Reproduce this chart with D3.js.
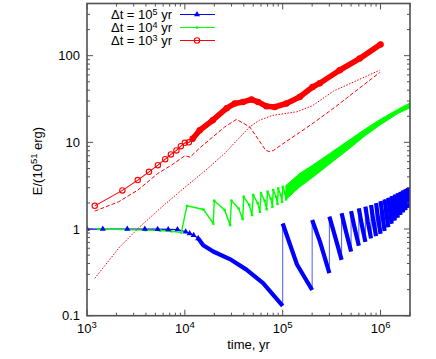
<!DOCTYPE html>
<html>
<head>
<meta charset="utf-8">
<script src="https://cdn.jsdelivr.net/npm/d3@7"></script>
<style>
body { margin: 0; background: #fff; }
text { font-family: "Liberation Sans", Arial, sans-serif; font-size: 13px; fill: #000; }
</style>
</head>
<body>
<script>
const width = 436;
const height = 359;

// dt = 1e5 yr (blue)
const blueEarly = [[1000,1.0],[1450,1.0],[2580,1.0],[3900,1.0],[5270,0.995],[6760,0.99],[8400,0.985],[10200,0.93],[11200,0.89],[12300,0.85],[13700,0.78]];
const blueDecay = [[13700,0.78],[15400,0.65],[19500,0.55],[28800,0.45],[42600,0.34],[63000,0.237],[100000,0.13]];
const blueJumpT = [1e5,2e5,3e5,4e5,5e5,6e5,7e5,8e5,9e5,1e6,1.1e6,1.2e6,1.3e6,1.4e6,1.5e6,1.6e6,1.7e6,1.8e6,1.9e6];
const blueTop = [1.16,1.27,1.39,1.52,1.61,1.73,1.81,1.89,1.99,2.1,2.2,2.3,2.4,2.5,2.6,2.7,2.8,2.9,3.0];
const blueMidT = [1.4e5,2.4e5,3.4e5,4.4e5,5.4e5,6.4e5,7.4e5,8.4e5,9.4e5];
const blueMid = [0.39,0.72,0.85,0.97,1.06,1.15,1.22,1.29,1.36];
const blueBottomT = [2e5,3e5,4e5,5e5,6e5,7e5,8e5,9e5,1e6,1.1e6,1.2e6,1.3e6,1.4e6,1.5e6,1.6e6,1.7e6,1.8e6,1.9e6,2e6];
const blueBottom = [0.198,0.31,0.44,0.55,0.64,0.71,0.78,0.83,0.88,0.95,1.05,1.15,1.25,1.35,1.45,1.55,1.65,1.75,1.85];

// dt = 1e4 yr (green)
const greenEarly = [[1300,1.0],[2500,0.985],[4000,0.97],[5600,0.96],[7300,0.94],[9200,0.91]];
const greenJumpT = [10500,20000,30000,40000,50000,60000,70000,80000,90000,100000];
const greenTop = [1.85,2.12,2.12,2.35,2.46,2.58,2.70,2.82,2.94,3.07];
const greenMidT = [15500,25500,35500,45500,55500,65500,75500,85500,95500,105500];
const greenMid = [1.68,1.66,1.72,1.9,2.0,2.12,2.24,2.35,2.47,2.58];
const greenBottomT = [19500,29000,39000,48500,58500,68500,78500,88500,98500,108500];
const greenBottom = [1.16,1.11,1.30,1.45,1.58,1.69,1.81,1.95,2.06,2.20];
const greenBandT = [108500,150000,200000,300000,500000,700000,1000000,1500000,2000000];
const greenBandHi = [3.2,4.4,5.4,7.4,11.0,14.3,18.5,24.0,28.5];
const greenBandLo = [2.2,3.07,3.9,5.6,8.8,12.0,16.0,21.5,25.0];

// dt = 1e3 yr (red) and the two thin red curves
const redMain = [[1200,1.85],[2300,2.79],[3300,3.67],[4300,4.57],[5300,5.46],[6300,6.4],[7200,7.26],[8200,8.07],[9100,9.04],[10000,9.87],[11000,10.0],[12000,11.0],[14200,13.8],[19300,18.0],[26800,24.8],[32400,28.1],[39400,29.3],[48000,31.2],[56000,29.3],[68200,26.1],[82800,25.6],[109000,28.1],[149000,33.4],[202000,43.6],[239000,48.1],[382000,67.9],[611000,92.6],[1000000,135]];
const redDash = [[1200,1.61],[2100,2.06],[3300,2.81],[5300,4.38],[7300,5.46],[10000,7.0],[11300,6.75],[14000,8.5],[25600,15.1],[33700,18.4],[46000,15.1],[57000,10.6],[67000,8.1],[74000,7.8],[81000,8.1],[100000,9.6],[149000,13.0],[210000,17.0],[335000,25],[540000,38],[980000,64]];
const redDot = [[1200,0.27],[2170,0.625],[3340,1.02],[5560,1.72],[10000,3.03],[16400,4.78],[25600,7.5],[46000,15.1],[58000,18.0],[79000,20.5],[139000,22.5],[202000,26.5],[330000,39],[980000,68]];

const legendExp = ["5", "4", "3"];
const yTickLabels = {0.1: "0.1", 1: "1", 10: "10", 100: "100"};

const x = d3.scaleLog().domain([1e3, 2e6]).range([87, 410]);
const y = d3.scaleLog().domain([0.1, 400]).range([315.7, 3.5]);
const line = d3.line().x(d => x(d[0])).y(d => y(d[1]));

const svg = d3.select('body').append('svg')
    .attr('width', width)
    .attr('height', height);

svg.append('clipPath').attr('id', 'plot-clip')
    .append('rect')
    .attr('x', 87).attr('y', 3.5)
    .attr('width', 323).attr('height', 312.2);

const plot = svg.append('g').attr('clip-path', 'url(#plot-clip)');

// ---- blue ----
const blueTeeth = blueJumpT.map((t, i) => {
    const pts = [[t, blueTop[i]]];
    if (i < blueMid.length) pts.push([blueMidT[i], blueMid[i]]);
    pts.push([blueBottomT[i], blueBottom[i]]);
    return pts;
});
// thin vertical jumps
const blueJumps = [[blueDecay[blueDecay.length - 1], blueTeeth[0][0]]];
for (let i = 1; i < blueTeeth.length; i++) {
    blueJumps.push([blueTeeth[i - 1][blueTeeth[i - 1].length - 1], blueTeeth[i][0]]);
}
plot.selectAll('.bjump').data(blueJumps).enter().append('path')
    .attr('fill', 'none').attr('stroke', '#4a5cff').attr('stroke-width', 1)
    .attr('d', line);
plot.append('path').datum(blueEarly)
    .attr('fill', 'none').attr('stroke', '#0000ff').attr('stroke-width', 1.2)
    .attr('d', line);
plot.selectAll('.bthick').data([blueDecay].concat(blueTeeth)).enter().append('path')
    .attr('fill', 'none').attr('stroke', '#0000ff').attr('stroke-width', 4.2)
    .attr('stroke-linejoin', 'round')
    .attr('d', line);

// ---- green ----
const greenPts = greenEarly.slice();
greenJumpT.forEach((t, i) => {
    greenPts.push([t, greenTop[i]]);
    greenPts.push([greenMidT[i], greenMid[i]]);
    greenPts.push([greenBottomT[i], greenBottom[i]]);
});
const greenBand = greenBandT.map((t, i) => ({t: t, hi: greenBandHi[i], lo: greenBandLo[i]}));
plot.append('path').datum(greenBand)
    .attr('fill', '#00ff00').attr('stroke', '#00ff00').attr('stroke-width', 1)
    .attr('d', d3.area().x(d => x(d.t)).y0(d => y(d.lo)).y1(d => y(d.hi)));
plot.append('path').datum(greenPts.concat([[greenBandT[0], greenBandHi[0]]]))
    .attr('fill', 'none').attr('stroke', '#00ff00').attr('stroke-width', 1.4)
    .attr('d', line);
plot.selectAll('.gpt').data(greenPts).enter().append('rect')
    .attr('x', d => x(d[0]) - 1.2).attr('y', d => y(d[1]) - 1.2)
    .attr('width', 2.4).attr('height', 2.4)
    .attr('fill', '#00ff00');

// blue triangle markers
const tri = d3.symbol().type(d3.symbolTriangle).size(16);
plot.selectAll('.bpt').data(blueEarly).enter().append('path')
    .attr('transform', d => `translate(${x(d[0])},${y(d[1])})`)
    .attr('d', tri)
    .attr('fill', '#0000ff');

// ---- red ----
plot.append('path').datum(redDot)
    .attr('fill', 'none').attr('stroke', '#ff0000').attr('stroke-width', 1)
    .attr('stroke-dasharray', '1.5,1.5')
    .attr('d', line);
plot.append('path').datum(redDash)
    .attr('fill', 'none').attr('stroke', '#ff0000').attr('stroke-width', 1)
    .attr('stroke-dasharray', '4,2')
    .attr('d', line);
plot.append('path').datum(redMain)
    .attr('fill', 'none').attr('stroke', '#ff0000').attr('stroke-width', 1.1)
    .attr('d', line);
plot.append('path').datum(redMain.filter(d => d[0] >= 12000))
    .attr('fill', 'none').attr('stroke', '#ff0000').attr('stroke-width', 5.6)
    .attr('stroke-linejoin', 'round').attr('stroke-linecap', 'round')
    .attr('d', line);
plot.selectAll('.rpt').data(redMain).enter().append('circle')
    .attr('cx', d => x(d[0])).attr('cy', d => y(d[1]))
    .attr('r', 2.7)
    .attr('fill', 'none').attr('stroke', '#ff0000').attr('stroke-width', 1.1);

// ---- frame & ticks ----
const frameColor = '#505050';
const x0 = 87, x1 = 410, y0 = 315.7, y1 = 3.5;
const isMajor = v => Math.abs(Math.log10(v) - Math.round(Math.log10(v))) < 1e-6;

const axes = svg.append('g').attr('stroke', frameColor).attr('stroke-width', 1);
y.ticks().forEach(v => {
    const len = isMajor(v) ? 6 : 3;
    const yy = y(v);
    axes.append('line').attr('x1', x0).attr('x2', x0 + len).attr('y1', yy).attr('y2', yy);
    axes.append('line').attr('x1', x1).attr('x2', x1 - len).attr('y1', yy).attr('y2', yy);
});
x.ticks().forEach(v => {
    const len = isMajor(v) ? 6 : 3;
    const xx = x(v);
    axes.append('line').attr('x1', xx).attr('x2', xx).attr('y1', y0).attr('y2', y0 - len);
    axes.append('line').attr('x1', xx).attr('x2', xx).attr('y1', y1).attr('y2', y1 + len);
});
svg.append('rect')
    .attr('x', x0).attr('y', y1)
    .attr('width', x1 - x0).attr('height', y0 - y1)
    .attr('fill', 'none').attr('stroke', frameColor).attr('stroke-width', 1.6);

// tick labels
y.ticks().filter(isMajor).forEach(v => {
    svg.append('text')
        .attr('x', 80).attr('y', y(v) + 4.5)
        .attr('text-anchor', 'end')
        .text(yTickLabels[v]);
});
x.ticks().filter(isMajor).forEach(v => {
    const t = svg.append('text')
        .attr('x', x(v)).attr('y', 333)
        .attr('text-anchor', 'middle');
    t.append('tspan').text('10');
    t.append('tspan').attr('dy', -5).style('font-size', '9.5px').text(Math.round(Math.log10(v)));
});

// axis titles
svg.append('text')
    .attr('x', 248.5).attr('y', 349)
    .attr('text-anchor', 'middle')
    .text('time, yr');
const yl = svg.append('text')
    .attr('transform', 'translate(42,161) rotate(-90)')
    .attr('text-anchor', 'middle');
yl.append('tspan').text('E/(10');
yl.append('tspan').attr('dy', -5).style('font-size', '9.5px').text('51');
yl.append('tspan').attr('dy', 5).text('\u00a0erg)');

// ---- legend ----
const legendColors = ['#0000ff', '#00ff00', '#ff0000'];
legendExp.forEach((e, i) => {
    const cy = 14.5 + i * 13;
    const t = svg.append('text')
        .attr('x', 172).attr('y', cy + 4.5)
        .attr('text-anchor', 'end');
    t.append('tspan').text('\u0394t = 10');
    t.append('tspan').attr('dy', -4.5).style('font-size', '9px').text(e);
    t.append('tspan').attr('dy', 4.5).text('\u00a0yr');
    svg.append('line')
        .attr('x1', 180).attr('x2', 215).attr('y1', cy).attr('y2', cy)
        .attr('stroke', legendColors[i]).attr('stroke-width', 1.2);
    if (i === 0) {
        svg.append('path').attr('transform', `translate(197,${cy})`).attr('d', tri).attr('fill', legendColors[i]);
    } else if (i === 1) {
        svg.append('rect').attr('x', 195.8).attr('y', cy - 1.2).attr('width', 2.4).attr('height', 2.4).attr('fill', legendColors[i]);
    } else {
        svg.append('circle').attr('cx', 197).attr('cy', cy).attr('r', 2.7)
            .attr('fill', 'none').attr('stroke', legendColors[i]).attr('stroke-width', 1.1);
    }
});
</script>
</body>
</html>
